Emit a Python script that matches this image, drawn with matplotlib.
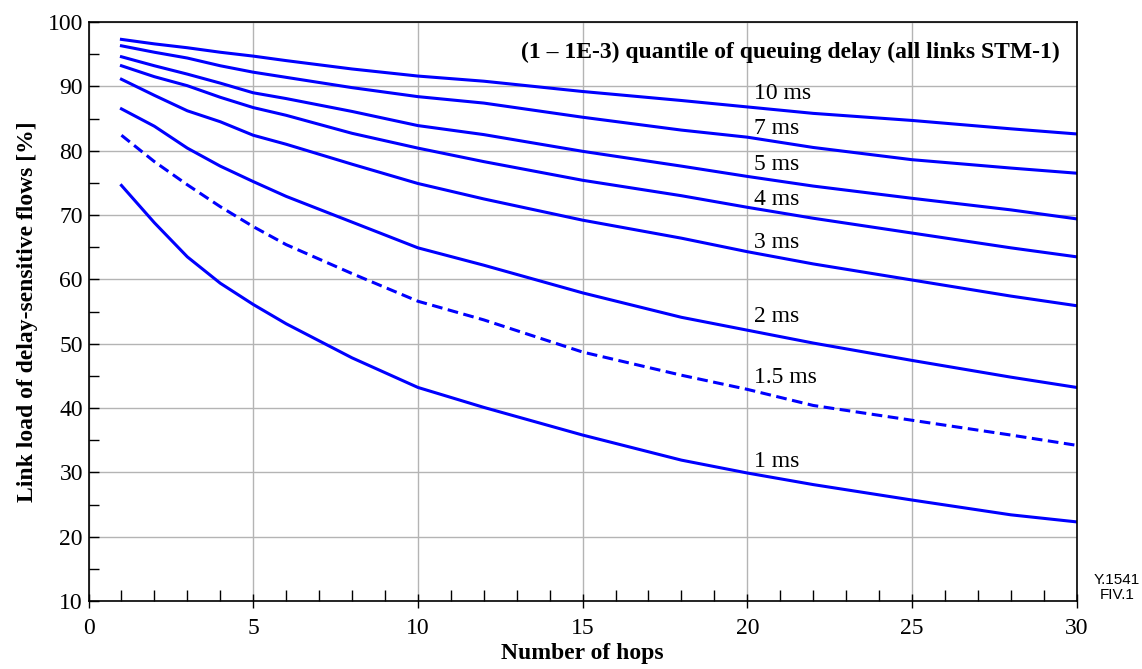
"""Link load vs number of hops for several queuing-delay quantiles -> out.png"""
import matplotlib; matplotlib.use("Agg")
import matplotlib.pyplot as plt
from matplotlib.ticker import MultipleLocator

plt.rcParams["font.family"] = ["Liberation Serif", "DejaVu Serif"]

HOPS = [1, 2, 3, 4, 5, 6, 8, 10, 12, 15, 18, 20, 22, 25, 28, 30]
MS10 = [97.3, 96.6, 96.0, 95.3, 94.7, 94.0, 92.7, 91.6, 90.8, 89.2, 87.8, 86.8, 85.8, 84.7, 83.4, 82.6]
MS7 = [96.3, 95.3, 94.4, 93.2, 92.2, 91.4, 89.8, 88.4, 87.4, 85.2, 83.2, 82.1, 80.5, 78.6, 77.3, 76.5]
MS5 = [94.6, 93.2, 91.9, 90.5, 89.0, 88.1, 86.1, 83.9, 82.5, 79.9, 77.6, 76.0, 74.5, 72.6, 70.8, 69.4]
MS4 = [93.2, 91.5, 90.1, 88.3, 86.7, 85.5, 82.7, 80.4, 78.3, 75.4, 73.0, 71.2, 69.5, 67.2, 64.9, 63.5]
MS3 = [91.1, 88.6, 86.2, 84.5, 82.4, 81.0, 77.9, 74.9, 72.5, 69.2, 66.4, 64.3, 62.4, 59.9, 57.4, 55.9]
MS2 = [86.5, 83.8, 80.4, 77.6, 75.2, 72.9, 68.9, 64.9, 62.2, 57.9, 54.1, 52.1, 50.1, 47.4, 44.8, 43.2]
MS15 = [82.4, 78.3, 74.7, 71.3, 68.2, 65.4, 60.9, 56.6, 53.7, 48.7, 45.1, 42.9, 40.4, 38.1, 35.8, 34.2]
MS1 = [74.6, 68.8, 63.5, 59.4, 56.1, 53.1, 47.8, 43.2, 40.1, 35.8, 31.9, 29.9, 28.1, 25.7, 23.4, 22.3]

SERIES = [MS10, MS7, MS5, MS4, MS3, MS2, MS15, MS1]
LABELS = ["10 ms", "7 ms", "5 ms", "4 ms", "3 ms", "2 ms", "1.5 ms", "1 ms"]
LABEL_Y = [88.9, 83.5, 77.8, 72.4, 65.7, 54.2, 44.7, 31.7]
LABEL_X = 20.2
BLUE = "#0000FF"

fig = plt.figure(figsize=(11.42, 6.69), dpi=100)
ax = fig.add_axes([0.0775, 0.1016, 0.8653, 0.8655])

for ys, lab in zip(SERIES, LABELS):
    ls = (0, (3.5, 1.8)) if lab == "1.5 ms" else "-"
    ax.plot(HOPS, ys, color=BLUE, lw=2.2, ls=ls, solid_joinstyle="round")
for lab, ly in zip(LABELS, LABEL_Y):
    ax.text(LABEL_X, ly, lab, fontsize=17, va="center", ha="left")

ax.text(29.5, 95.2, "(1 \u2013 1E-3) quantile of queuing delay (all links STM-1)",
        fontsize=17, fontweight="bold", ha="right", va="center")

ax.set_xlim(0, 30); ax.set_ylim(10, 100)
ax.xaxis.set_major_locator(MultipleLocator(5)); ax.xaxis.set_minor_locator(MultipleLocator(1))
ax.yaxis.set_major_locator(MultipleLocator(10)); ax.yaxis.set_minor_locator(MultipleLocator(5))
ax.grid(True, which="major", color="#b4b4b4", lw=1.0)
ax.set_axisbelow(True)
ax.tick_params(axis="x", which="major", direction="inout", length=10, width=1, labelsize=17, pad=7)
ax.tick_params(axis="x", which="minor", direction="in", length=8, width=1)
ax.tick_params(axis="y", which="major", direction="in", length=7, width=1, labelsize=17, pad=4)
ax.tick_params(axis="y", which="minor", direction="in", length=7, width=1)
for s in ax.spines.values():
    s.set_linewidth(1.2)

ax.set_xlabel("Number of hops", fontsize=17, fontweight="bold", labelpad=3)
ax.set_ylabel("Link load of delay-sensitive flows [%]", fontsize=17, fontweight="bold", labelpad=7)

fig.text(0.978, 0.122, "Y.1541\nFIV.1", fontsize=11, ha="center", va="center",
         family=["Liberation Sans", "DejaVu Sans"], linespacing=1.1)

fig.savefig("out.png", dpi=100)
